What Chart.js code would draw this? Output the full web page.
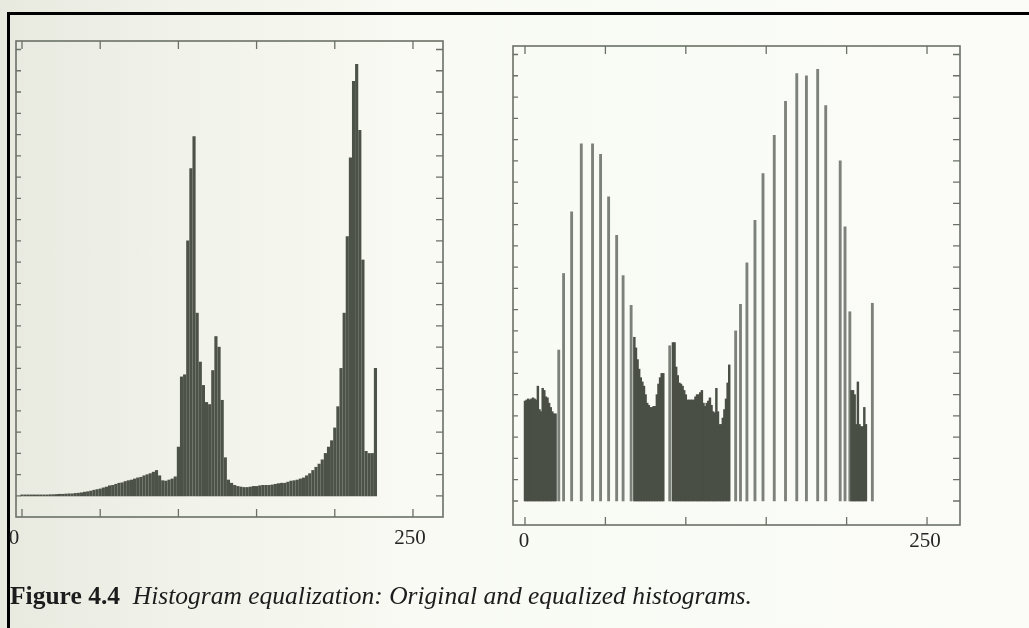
<!DOCTYPE html>
<html>
<head>
<meta charset="utf-8">
<script src="https://cdn.jsdelivr.net/npm/chart.js@4.4.1/dist/chart.umd.min.js"></script>
<style>
html,body{margin:0;padding:0;}
body{width:1029px;height:628px;position:relative;overflow:hidden;
  background:linear-gradient(to right,#e8eae0 0%,#f1f3ea 18%,#f8faf3 40%,#fbfcf8 100%);}
#border{position:absolute;left:7px;top:12px;width:1022px;height:616px;border-top:3px solid #000;border-left:3px solid #000;box-sizing:border-box;}
canvas{position:absolute;left:0;top:0;}
#caption{position:absolute;left:10px;top:581px;font-family:"Liberation Serif","DejaVu Serif",serif;font-size:25.5px;color:#1c1c1c;white-space:nowrap;}
#caption b{font-weight:bold;}
#caption i{font-style:italic;}
</style>
</head>
<body>
<div id="border"></div>
<canvas id="orig" width="1029" height="628"></canvas>
<canvas id="eq" width="1029" height="628"></canvas>
<div id="caption"><b>Figure 4.4</b>&nbsp;&nbsp;<i>Histogram equalization: Original and equalized histograms.</i></div>
<script>
// ---------- DATA ----------
// Original histogram (grey level bins of width 2)
const origLevels = [0,2,4,6,8,10,12,14,16,18,20,22,24,26,28,30,32,34,36,38,40,42,44,46,48,50,52,54,56,58,60,62,64,66,68,70,72,74,76,78,80,82,84,86,88,90,92,94,96,98,100,102,104,106,108,110,112,114,116,118,120,122,124,126,128,130,132,134,136,138,140,142,144,146,148,150,152,154,156,158,160,162,164,166,168,170,172,174,176,178,180,182,184,186,188,190,192,194,196,198,200,202,204,206,208,210,212,214,216,218,220,222,224,226];
const origCounts = [0.05,0.05,0.05,0.05,0.05,0.05,0.05,0.05,0.05,0.06,0.06,0.07,0.08,0.08,0.09,0.1,0.1,0.12,0.13,0.15,0.18,0.2,0.23,0.27,0.3,0.33,0.38,0.42,0.48,0.5,0.55,0.6,0.62,0.68,0.72,0.75,0.8,0.85,0.88,0.95,1.0,1.05,1.12,1.2,0.95,0.72,0.7,0.75,0.8,0.9,2.3,5.6,5.7,12.0,15.4,16.9,8.6,6.3,5.2,4.4,4.3,5.9,7.5,7.0,4.5,1.8,0.75,0.6,0.5,0.45,0.42,0.4,0.4,0.42,0.45,0.45,0.48,0.5,0.5,0.5,0.52,0.55,0.58,0.6,0.6,0.65,0.7,0.72,0.75,0.8,0.85,0.95,1.05,1.2,1.35,1.5,1.7,2.0,2.3,2.6,3.2,4.2,6.0,8.6,12.2,15.9,19.5,20.3,17.2,11.1,2.1,2.0,2.0,6.0];

// Equalized histogram: densely populated grey levels
const eqDenseLevels = [0,1,2,3,4,5,6,7,8,9,10,11,12,13,14,15,16,17,18,19,
  68,69,70,71,72,73,74,75,76,77,78,79,80,81,82,83,84,85,86,
  92,93,94,95,96,97,98,99,100,101,102,103,104,105,106,107,108,109,110,111,112,113,114,115,116,117,118,119,120,121,122,123,124,125,126,127,
  203,204,205,206,207,208,209,210,211,212];
const eqDenseCounts = [4.7,4.75,4.8,4.75,4.8,4.85,4.8,4.75,5.4,4.3,4.2,5.3,5.2,4.9,4.85,4.6,4.4,4.2,4.1,4.1,
  7.7,7.2,6.65,6.2,5.8,5.6,5.4,5.0,4.6,4.5,4.4,4.4,4.45,4.45,5.0,5.5,5.8,6.0,6.0,
  7.45,7.45,6.3,5.9,5.55,5.5,5.4,5.2,5.0,4.75,4.75,4.75,4.75,4.75,4.9,5.0,5.0,5.1,5.2,4.6,4.45,4.6,4.7,4.85,4.5,4.2,4.15,5.3,4.2,3.6,3.6,3.9,4.3,4.8,5.55,6.4,
  5.2,5.2,5.0,3.6,5.6,3.6,3.5,3.5,4.4,3.6];
// Equalized histogram: isolated tall grey levels
const eqSpikeLevels = [21,24,29,35,42,47,52,57,61,66,90,131,134,138,143,148,155,162,169,175,182,187,196,199,202,216];
const eqSpikeCounts = [7.1,10.7,13.6,16.8,16.8,16.3,14.3,12.5,10.6,9.2,7.3,8.0,9.25,11.2,13.2,15.4,17.2,18.8,20.1,20.0,20.3,18.6,16.0,12.9,8.9,9.3];

// Axis ticks and labels
const xTickValues = [0,50,100,150,200,250];
const yTickValues = [0,1,2,3,4,5,6,7,8,9,10,11,12,13,14,15,16,17,18,19,20,21];
const xTickLabels = ['0','250'];
const xLabelValues = [0,250];

// ---------- RENDERING ----------
const toPoints = (xs, ys) => xs.map((x, i) => ({x: x, y: ys[i]}));

const framePlugin = {
  id: 'bookFrame',
  afterDatasetsDraw(chart, args, opts) {
    const {ctx, chartArea: a, scales} = chart;
    ctx.save();
    ctx.strokeStyle = '#6b7167';
    ctx.lineWidth = 1.6;
    ctx.strokeRect(a.left, a.top, a.right - a.left, a.bottom - a.top);
    ctx.lineWidth = 1.3;
    ctx.beginPath();
    xTickValues.forEach(v => {
      const px = scales.x.getPixelForValue(v);
      ctx.moveTo(px, a.bottom); ctx.lineTo(px, a.bottom - 8);
      ctx.moveTo(px, a.top); ctx.lineTo(px, a.top + 8);
    });
    yTickValues.forEach(v => {
      const py = scales.y.getPixelForValue(v);
      ctx.moveTo(a.left, py); ctx.lineTo(a.left + 5, py);
      ctx.moveTo(a.right, py); ctx.lineTo(a.right - 7, py);
    });
    ctx.stroke();
    ctx.fillStyle = '#262626';
    ctx.font = '21px "Liberation Serif", "DejaVu Serif", serif';
    ctx.textAlign = 'center';
    ctx.textBaseline = 'alphabetic';
    xLabelValues.forEach((v, i) => {
      const px = scales.x.getPixelForValue(v) + opts.labelShift[i];
      ctx.fillText(xTickLabels[i], px, a.bottom + opts.labelDrop);
    });
    ctx.restore();
  }
};

function makeChart(id, datasets, pad, xr, yr, frameOpts) {
  return new Chart(document.getElementById(id), {
    type: 'bar',
    data: {datasets: datasets},
    options: {
      responsive: false,
      animation: false,
      layout: {padding: pad},
      plugins: {legend: {display: false}, tooltip: {enabled: false}, bookFrame: frameOpts},
      scales: {
        x: {type: 'linear', min: xr[0], max: xr[1], offset: false, display: false},
        y: {type: 'linear', min: yr[0], max: yr[1], display: false}
      }
    },
    plugins: [framePlugin]
  });
}

makeChart('orig', [{
    data: toPoints(origLevels, origCounts),
    backgroundColor: '#4d5249',
    barThickness: 2.5,
    grouped: false,
    borderWidth: 0
  }],
  {left: 16, top: 41, right: 586, bottom: 111},
  [-3.84, 269.2], [-0.99, 21.4],
  {labelShift: [-8, -3], labelDrop: 27});

makeChart('eq', [{
    data: toPoints(eqDenseLevels, eqDenseCounts),
    backgroundColor: '#4a4f46',
    barThickness: 1.8,
    grouped: false,
    borderWidth: 0
  }, {
    data: toPoints(eqSpikeLevels, eqSpikeCounts),
    backgroundColor: '#7c8179',
    barThickness: 2.2,
    grouped: false,
    borderWidth: 0
  }],
  {left: 513, top: 46, right: 69, bottom: 103},
  [-7.46, 270.5], [-1.13, 21.4],
  {labelShift: [-1, -2], labelDrop: 22});
</script>
</body>
</html>
